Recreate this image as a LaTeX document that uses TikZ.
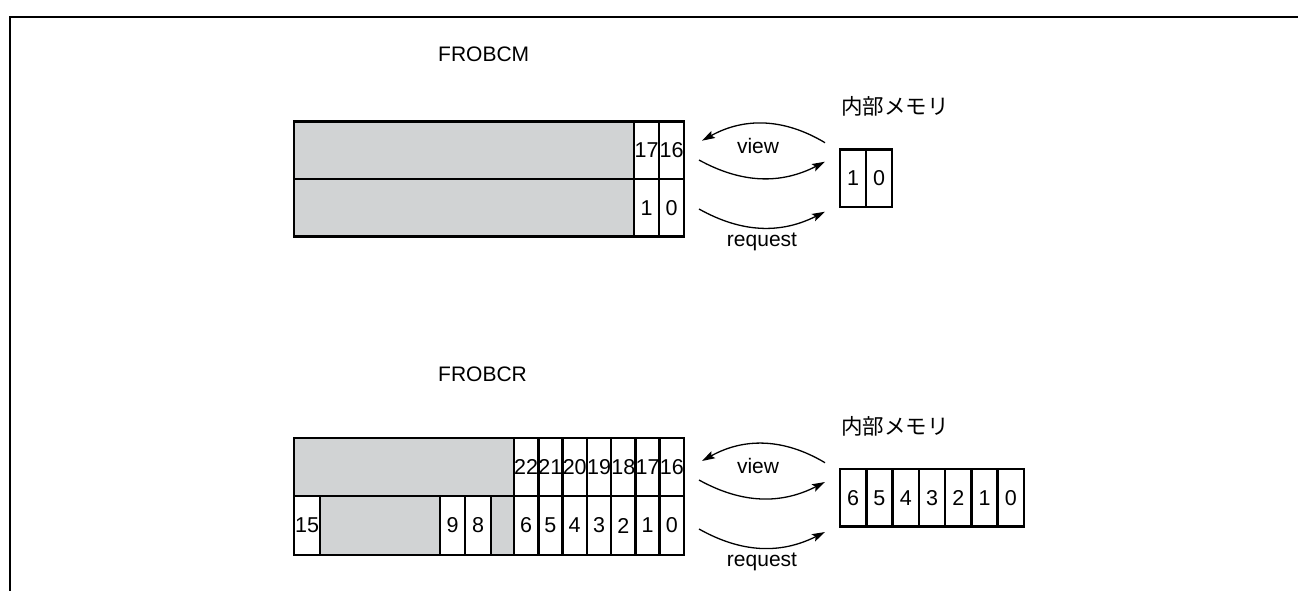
\documentclass[tikz,border=0pt]{standalone}
\usepackage{fontspec}
\setmainfont{Liberation Sans}
\newfontfamily\cjk{Noto Sans CJK JP}
\usetikzlibrary{arrows.meta}
\definecolor{regGray}{RGB}{209,211,212}
\tikzset{
  cellbox/.style={draw, line width=2.5pt, inner sep=0pt, fill=white, font=\fontsize{21.5}{21.5}\selectfont},
  graybox/.style={draw, line width=2.5pt, inner sep=0pt, fill=regGray},
  lbl/.style={inner sep=0pt, font=\fontsize{21}{21}\selectfont},
  memlbl/.style={inner sep=0pt, font=\cjk\fontsize{21.5}{21.5}\selectfont},
  arc/.style={line width=1.3pt, -{Stealth[length=13pt,width=8pt,inset=2.5pt]}},
  frame/.style={line width=2.3pt}
}
\begin{document}
\begin{tikzpicture}[x=1pt,y=-1pt]
\useasboundingbox (0,0) rectangle (1298,590);
% outer frame
\coordinate (fbl) at (10,591);
\coordinate (ftl) at (10,17);
\coordinate (ftr) at (1299,17);
\draw[frame] (fbl) -- (ftl) -- (ftr);

% ================= FROBCM =================
\node[lbl, anchor=base west] (tM) at (438,61.7) {FROBCM};
\node[graybox, minimum width=340pt, minimum height=57.5pt] (gM1) at (464,150.25) {};
\node[graybox, minimum width=340pt, minimum height=57.5pt] (gM2) at (464,207.75) {};
\node[cellbox, minimum width=25pt, minimum height=57.5pt] (m17) at (646.5,150.25) {17};
\node[cellbox, minimum width=25pt, minimum height=57.5pt] (m16) at (671.5,150.25) {16};
\node[cellbox, minimum width=25pt, minimum height=57.5pt] (m1) at (646.5,207.75) {1};
\node[cellbox, minimum width=25pt, minimum height=57.5pt] (m0) at (671.5,207.75) {0};

\node[memlbl] (imM) at (895,106.7) {内部メモリ};
\node[cellbox, minimum width=26pt, minimum height=57.5pt] (im1) at (853,178) {1};
\node[cellbox, minimum width=26pt, minimum height=57.5pt] (im0) at (879,178) {0};

\coordinate (vMa) at (825,142.7);
\coordinate (vMb) at (702,140.7);
\coordinate (vMc) at (699,160);
\coordinate (vMd) at (825,161.7);
\coordinate (rMa) at (699,209);
\coordinate (rMb) at (825,211.7);
\draw[arc] (vMa) to[bend right=30] (vMb);
\draw[arc] (vMc) to[bend right=28] (vMd);
\draw[arc] (rMa) to[bend right=28] (rMb);
\node[lbl, anchor=base] (vwM) at (758,153.3) {view};
\node[lbl, anchor=base] (rqM) at (762,246.5) {request};

% ================= FROBCR =================
\node[lbl, anchor=base west] (tR) at (438,381) {FROBCR};
\node[graybox, minimum width=220pt, minimum height=58pt] (gR1) at (404,467) {};
\foreach \n [count=\i from 0] in {22,21,20,19,18,17,16}{
  \node[cellbox, minimum width=24.29pt, minimum height=58pt] (r\n) at ({526.14+24.29*\i},467) {\n};
}
\node[cellbox, minimum width=26pt, minimum height=59pt] (r15) at (307,525.5) {15};
\node[graybox, minimum width=120pt, minimum height=59pt] (gR2) at (380,525.5) {};
\node[cellbox, minimum width=25pt, minimum height=59pt] (r9) at (452.5,525.5) {9};
\node[cellbox, minimum width=26pt, minimum height=59pt] (r8) at (478,525.5) {8};
\node[graybox, minimum width=23pt, minimum height=59pt] (gR3) at (502.5,525.5) {};
\foreach \n [count=\i from 0] in {6,5,4,3,2,1,0}{
  \node[cellbox, minimum width=24.29pt, minimum height=59pt] (rl\n) at ({526.14+24.29*\i},525.5) {\n};
}

\node[memlbl] (imR) at (895,426.7) {内部メモリ};
\foreach \n [count=\i from 0] in {6,5,4,3,2,1,0}{
  \node[cellbox, minimum width=26.29pt, minimum height=57.7pt] (iR\n) at ({853.14+26.29*\i},497.85) {\n};
}

\coordinate (vRa) at (825,462.7);
\coordinate (vRb) at (702,461);
\coordinate (vRc) at (699,480);
\coordinate (vRd) at (825,482);
\coordinate (rRa) at (699,529);
\coordinate (rRb) at (825,532);
\draw[arc] (vRa) to[bend right=30] (vRb);
\draw[arc] (vRc) to[bend right=28] (vRd);
\draw[arc] (rRa) to[bend right=28] (rRb);
\node[lbl, anchor=base] (vwR) at (758,473.3) {view};
\node[lbl, anchor=base] (rqR) at (762,566.5) {request};
\end{tikzpicture}
\end{document}
